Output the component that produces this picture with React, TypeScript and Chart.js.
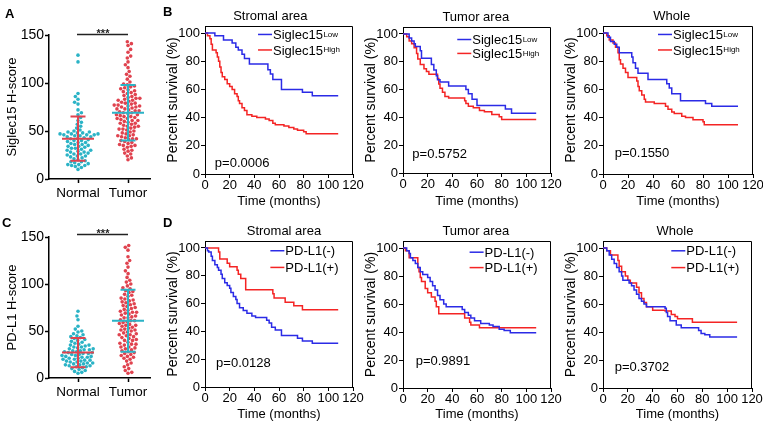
import React, { useEffect, useRef } from 'react';
import { Chart, registerables } from 'chart.js';
Chart.register(...registerables);

const FONT = '"Liberation Sans", Arial, Helvetica, sans-serif';
const BLUE = '#2b2be6';
const RED = '#f42424';
const CYAN = '#2bb3c6';
const PINK = '#e0434f';

// ---------- Dot plots (A, C) ----------
const CATEGORIES = ['Normal', 'Tumor'];
const DOT_Y_TICKS = [0, 50, 100, 150];

const siglecNormal = [129, 122, 89, 86, 83, 80, 78, 72, 69, 67, 64, 61, 59, 57, 55, 53, 51, 50, 49, 49, 48, 48, 47, 47, 47, 46, 46, 46, 45, 45, 44, 44, 43, 42, 42, 41, 40, 40, 39, 38, 38, 37, 36, 36, 35, 34, 34, 33, 32, 32, 31, 30, 30, 29, 28, 28, 27, 26, 26, 25, 24, 24, 23, 22, 21, 20, 19, 18, 18, 17, 16, 15, 15, 14, 14, 13, 12, 10];
const siglecTumor = [143, 141, 139, 135, 132, 128, 126, 122, 119, 116, 112, 109, 107, 104, 101, 99, 98, 97, 96, 95, 94, 93, 92, 91, 90, 89, 88, 87, 86, 85, 84, 84, 83, 82, 82, 81, 80, 79, 79, 78, 77, 77, 76, 76, 75, 75, 74, 73, 73, 72, 71, 71, 70, 69, 69, 68, 67, 67, 66, 65, 65, 64, 63, 63, 62, 61, 61, 60, 59, 58, 58, 57, 56, 55, 55, 54, 53, 52, 52, 51, 50, 49, 48, 47, 46, 45, 45, 44, 43, 42, 42, 41, 40, 39, 38, 37, 36, 35, 35, 34, 33, 31, 30, 29, 27, 26, 24, 22, 20];
const siglecMean = [42, 69];
const siglecSD = [23, 29];

const pdl1Normal = [71, 66, 62, 55, 52, 50, 49, 47, 46, 45, 44, 43, 42, 41, 40, 39, 38, 37, 36, 35, 35, 34, 33, 33, 32, 31, 31, 30, 30, 29, 29, 28, 28, 27, 27, 26, 26, 25, 25, 24, 24, 23, 23, 22, 22, 21, 21, 20, 20, 19, 19, 18, 18, 17, 17, 16, 16, 15, 15, 14, 14, 13, 13, 12, 12, 11, 10, 9, 8, 7, 6, 5];
const pdl1Tumor = [141, 139, 136, 129, 125, 122, 118, 114, 111, 107, 104, 102, 100, 98, 96, 95, 93, 92, 91, 89, 88, 87, 85, 84, 83, 82, 81, 80, 79, 78, 77, 76, 75, 74, 73, 72, 71, 70, 70, 69, 68, 67, 66, 65, 64, 64, 62, 61, 61, 60, 59, 58, 57, 56, 56, 55, 54, 53, 52, 51, 51, 50, 49, 48, 47, 46, 46, 45, 44, 43, 42, 41, 40, 40, 38, 37, 36, 36, 35, 33, 33, 32, 31, 30, 29, 28, 27, 26, 25, 24, 23, 22, 21, 20, 18, 16, 14, 12, 10, 8, 6, 5];
const pdl1Mean = [27, 61];
const pdl1SD = [15.5, 33];

// ---------- Survival curves (B, D) ----------
const KM_X_TICKS = [0, 20, 40, 60, 80, 100, 120];
const KM_Y_TICKS = [0, 20, 40, 60, 80, 100];

const b1LowT = [0, 8, 15, 22, 25, 27, 30, 32, 36, 51, 53, 55, 62, 79, 87, 108];
const b1LowS = [100, 98, 95, 93, 90, 88, 85, 82, 78, 74, 71, 67, 60, 58, 55.5, 55.5];
const b1HighT = [0, 2, 4, 5, 6, 9, 10, 11, 12, 13, 14, 16, 18, 20, 22, 24, 26, 27, 28, 30, 32, 34, 38, 42, 49, 52, 55, 57, 64, 68, 72, 75, 80, 82, 108];
const b1HighS = [100, 98, 96, 92, 88, 86, 83, 80, 76, 72, 69, 67, 64, 62, 60, 57, 55, 52, 50, 47, 45, 42, 41, 40, 39, 38, 36, 35, 34, 33, 32, 31, 30, 28.5, 28.5];

const b2LowT = [0, 5, 7, 9, 10, 14, 15, 23, 25, 27, 28, 30, 37, 51, 53, 56, 60, 83, 88, 108];
const b2LowS = [100, 97, 95, 93, 91, 88, 82.5, 78, 74, 70, 67, 65.5, 62.5, 60, 57, 53, 48.5, 46, 43, 43];
const b2HighT = [0, 3, 5, 7, 9, 11, 12, 14, 17, 19, 21, 28, 29, 30, 32, 34, 37, 50, 51, 53, 57, 62, 66, 72, 78, 80, 108];
const b2HighS = [100, 98, 95, 93, 90, 86, 82, 78, 75, 73, 71, 68, 64, 61, 58, 55, 54, 52, 50, 48, 47, 45, 44, 42, 40.5, 38.5, 38.5];

const b3LowT = [0, 4, 6, 9, 11, 13, 23, 24, 26, 28, 36, 51, 53, 55, 62, 82, 87, 108];
const b3LowS = [100, 97, 94, 92, 90, 86, 83, 79, 75, 71.5, 67, 64, 61, 57, 52, 50, 48, 48];
const b3HighT = [0, 3, 5, 8, 10, 12, 13, 14, 16, 18, 20, 27, 28, 29, 31, 33, 34, 41, 50, 52, 55, 57, 63, 66, 72, 80, 81, 108];
const b3HighS = [100, 98, 95, 93, 90, 86, 81, 78, 75, 72, 68.5, 66, 62, 59, 56, 53, 51, 50, 48, 46, 44, 43, 41, 40, 38.5, 37, 35, 35];

const d1NegT = [0, 2, 3, 5, 6, 8, 10, 11, 13, 14, 16, 18, 20, 21, 23, 25, 26, 28, 31, 34, 38, 41, 50, 52, 54, 57, 62, 75, 79, 87, 108];
const d1NegS = [100, 98, 97, 94, 91, 88, 86, 84, 81, 78, 75, 73, 71, 68, 65, 63, 60, 57, 55, 53, 51, 50, 48, 46, 43, 41, 37, 35, 33, 31.5, 31.5];
const d1PosT = [0, 11, 12, 18, 20, 26, 27, 29, 33, 55, 56, 65, 72, 79, 108];
const d1PosS = [100, 97, 92, 89, 86.5, 84, 81, 78, 70, 67, 64, 61, 58.5, 55.5, 55.5];

const d2NegT = [0, 3, 5, 6, 8, 10, 12, 14, 16, 20, 22, 24, 26, 28, 30, 33, 35, 48, 50, 53, 55, 58, 63, 70, 73, 78, 82, 87, 108];
const d2NegS = [100, 98, 96, 93, 91, 89, 86, 83, 81, 79, 76, 73, 70, 66, 63, 60, 58, 56, 54, 52, 50, 48, 46, 45, 44, 42, 41, 39.5, 39.5];
const d2PosT = [0, 2, 5, 12, 13, 14, 15, 18, 20, 23, 26, 27, 29, 50, 54, 55, 62, 108];
const d2PosS = [100, 98, 93, 86, 83, 79, 76, 71, 68, 65, 62, 58, 53, 50, 47, 45, 43, 43];

const d3NegT = [0, 3, 5, 7, 9, 11, 13, 15, 16, 21, 23, 25, 27, 29, 31, 33, 35, 50, 51, 52, 54, 59, 63, 77, 79, 82, 86, 108];
const d3NegS = [100, 98, 95, 92, 89, 86, 83, 80, 77, 75, 73, 70, 67, 64, 62, 60, 58, 57, 54, 51, 48, 45, 43, 41, 39, 38, 36.5, 36.5];
const d3PosT = [0, 3, 6, 12, 13, 15, 18, 20, 22, 27, 29, 31, 33, 35, 40, 50, 55, 58, 60, 72, 108];
const d3PosS = [100, 98, 95, 91, 87, 83, 80, 77, 75, 72, 68, 64, 61, 58, 55.5, 55, 52.5, 51, 49.5, 47, 47];

const SIGLEC_NAMES = ['Siglec15', 'Siglec15'];
const SIGLEC_SUPS = ['Low', 'High'];
const PDL1_NAMES = ['PD-L1(-)', 'PD-L1(+)'];
const PDL1_SUPS = ['', ''];

// ---------- helpers ----------
function textAt(ctx: CanvasRenderingContext2D, text: string, x: number, yc: number, size: number, align: CanvasTextAlign = 'left', bold = false) {
  ctx.save();
  ctx.font = `${bold ? 'bold ' : ''}${size}px ${FONT}`;
  ctx.fillStyle = '#000';
  ctx.textAlign = align;
  ctx.textBaseline = 'alphabetic';
  ctx.fillText(text, x, yc + size * 0.36);
  ctx.restore();
}

function swarm(values: number[], center: number, kx: number, ky: number, d: number) {
  const order = values.map((_, i) => i).sort((a, b) => values[a] - values[b]);
  const placed: { x: number; y: number }[] = [];
  const out: { x: number; y: number }[] = new Array(values.length);
  let flip = 1;
  for (const i of order) {
    const y = values[i] * ky;
    const near = placed.filter((p) => Math.abs(p.y - y) < d);
    const cands = [0];
    near.forEach((p) => {
      const dx = Math.sqrt(d * d - (p.y - y) * (p.y - y));
      cands.push(p.x + dx, p.x - dx);
    });
    cands.sort((a, b) => Math.abs(a) - Math.abs(b) || (a - b) * flip);
    let xx = 0;
    for (const c of cands) {
      if (near.every((p) => (p.x - c) * (p.x - c) + (p.y - y) * (p.y - y) >= d * d - 1e-6)) { xx = c; break; }
    }
    flip = -flip;
    placed.push({ x: xx, y });
    out[i] = { x: center + xx / kx, y: values[i] };
  }
  return out;
}

type DotPanel = {
  height: number; padTop: number; xH: number; yTitle: string;
  normal: number[]; tumor: number[]; mean: number[]; sd: number[]; ky: number; barY: number;
};

function dotConfig(p: DotPanel): any {
  const decor = {
    id: 'dotDecor',
    afterDatasetsDraw(chart: any) {
      const { ctx, scales: { x, y } } = chart;
      ctx.save();
      const colors = [PINK, CYAN];
      [1, 2].forEach((c, i) => {
        ctx.strokeStyle = colors[i];
        ctx.lineWidth = 2;
        const m = p.mean[i], s = p.sd[i];
        ctx.beginPath();
        ctx.moveTo(x.getPixelForValue(c - 0.32), y.getPixelForValue(m));
        ctx.lineTo(x.getPixelForValue(c + 0.32), y.getPixelForValue(m));
        ctx.moveTo(x.getPixelForValue(c), y.getPixelForValue(m - s));
        ctx.lineTo(x.getPixelForValue(c), y.getPixelForValue(m + s));
        ctx.moveTo(x.getPixelForValue(c - 0.15), y.getPixelForValue(m + s));
        ctx.lineTo(x.getPixelForValue(c + 0.15), y.getPixelForValue(m + s));
        ctx.moveTo(x.getPixelForValue(c - 0.15), y.getPixelForValue(m - s));
        ctx.lineTo(x.getPixelForValue(c + 0.15), y.getPixelForValue(m - s));
        ctx.stroke();
      });
      const by = Math.round(y.getPixelForValue(p.barY)) + 0.5;
      ctx.strokeStyle = '#222';
      ctx.lineWidth = 1.5;
      ctx.beginPath();
      ctx.moveTo(x.getPixelForValue(0.98), by);
      ctx.lineTo(x.getPixelForValue(2.0), by);
      ctx.stroke();
      ctx.font = `bold 11px ${FONT}`;
      ctx.fillStyle = '#222';
      ctx.textAlign = 'center';
      ctx.textBaseline = 'alphabetic';
      ctx.fillText('***', x.getPixelForValue(1.5), by + 2);
      ctx.restore();
    },
  };
  return {
    type: 'scatter',
    data: {
      datasets: [
        { data: swarm(p.normal, 1, 50, p.ky, 3.9), backgroundColor: CYAN, borderWidth: 0, pointRadius: 1.8, pointHoverRadius: 1.8 },
        { data: swarm(p.tumor, 2, 50, p.ky, 3.9), backgroundColor: PINK, borderWidth: 0, pointRadius: 1.8, pointHoverRadius: 1.8 },
      ],
    },
    options: {
      responsive: false, animation: false, events: [],
      layout: { padding: { top: p.padTop, right: 10, left: 0, bottom: 0 } },
      plugins: { legend: { display: false }, tooltip: { enabled: false } },
      scales: {
        x: {
          type: 'linear', min: 0.42, max: 2.44,
          afterBuildTicks: (sc: any) => { sc.ticks = [1, 2].map((v) => ({ value: v })); },
          afterFit: (sc: any) => { sc.height = p.xH; sc.paddingLeft = 0; sc.paddingRight = 0; },
          grid: { display: true, drawOnChartArea: false, drawTicks: true, tickLength: 4, tickColor: '#000', tickWidth: 1.5 },
          border: { display: true, color: '#000', width: 1.5 },
          ticks: { color: '#000', font: { family: FONT, size: 13.5 }, padding: 2, maxRotation: 0, autoSkip: false, callback: (v: number) => CATEGORIES[v - 1] },
        },
        y: {
          type: 'linear', min: 0, max: 150,
          afterBuildTicks: (sc: any) => { sc.ticks = DOT_Y_TICKS.map((v) => ({ value: v })); },
          afterFit: (sc: any) => { sc.width = 49; sc.paddingTop = 0; sc.paddingBottom = 0; },
          grid: { display: true, drawOnChartArea: false, drawTicks: true, tickLength: 4, tickColor: '#000', tickWidth: 1.5 },
          border: { display: true, color: '#000', width: 1.5 },
          ticks: { color: '#000', font: { family: FONT, size: 14 }, padding: 1 },
          title: { display: true, text: p.yTitle, color: '#000', font: { family: FONT, size: 13 }, padding: { top: 5, bottom: 0 } },
        },
      },
    },
    plugins: [decor],
  };
}

type KMPanel = {
  height: number; padTop: number; padRight: number; xH: number; title: string; titleX: number;
  p: string; pX: number; pY: number; legX: number; legY: number[];
  series: number[][][]; names: string[]; sups: string[];
};

function kmConfig(p: KMPanel): any {
  const colors = [BLUE, RED];
  const decor = {
    id: 'kmDecor',
    afterDraw(chart: any) {
      const { ctx, chartArea: a, scales: { x, y } } = chart;
      ctx.save();
      ctx.strokeStyle = '#000';
      ctx.lineWidth = 1;
      const top = Math.round(a.top) + 0.5;
      const right = Math.round(a.right) - 0.5;
      ctx.beginPath();
      ctx.moveTo(a.left, top);
      ctx.lineTo(right, top);
      ctx.lineTo(right, a.bottom);
      ctx.stroke();
      textAt(ctx, p.title, x.getPixelForValue(p.titleX), y.getPixelForValue(112.5), 13, 'center');
      textAt(ctx, p.p, x.getPixelForValue(p.pX), y.getPixelForValue(p.pY), 13, 'left');
      p.names.forEach((name, i) => {
        const yy = y.getPixelForValue(p.legY[i]);
        const x0 = x.getPixelForValue(p.legX);
        ctx.strokeStyle = colors[i];
        ctx.lineWidth = 1.5;
        ctx.beginPath();
        ctx.moveTo(x0, yy);
        ctx.lineTo(x0 + 14, yy);
        ctx.stroke();
        textAt(ctx, name, x0 + 15, yy, 13, 'left');
        if (p.sups[i]) {
          ctx.font = `13px ${FONT}`;
          const w = ctx.measureText(name).width;
          ctx.font = `8px ${FONT}`;
          ctx.fillStyle = '#000';
          ctx.textAlign = 'left';
          ctx.textBaseline = 'alphabetic';
          ctx.fillText(p.sups[i], x0 + 15 + w + 0.5, yy + 2.5);
        }
      });
      ctx.restore();
    },
  };
  return {
    type: 'line',
    data: {
      datasets: p.series.map((s, i) => ({
        label: p.names[i] + p.sups[i],
        data: s[0].map((t, j) => ({ x: t, y: s[1][j] })),
        borderColor: colors[i], borderWidth: 1.5, stepped: true, pointRadius: 0, fill: false,
      })),
    },
    options: {
      responsive: false, animation: false, events: [],
      layout: { padding: { top: p.padTop, right: p.padRight, left: 0, bottom: 0 } },
      plugins: { legend: { display: false }, tooltip: { enabled: false } },
      scales: {
        x: {
          type: 'linear', min: 0, max: 120,
          afterBuildTicks: (sc: any) => { sc.ticks = KM_X_TICKS.map((v) => ({ value: v })); },
          afterFit: (sc: any) => { sc.height = p.xH; sc.paddingLeft = 0; sc.paddingRight = 0; },
          grid: { display: true, drawOnChartArea: false, drawTicks: true, tickLength: 4, tickColor: '#000', tickWidth: 1 },
          border: { display: true, color: '#000', width: 1 },
          ticks: { color: '#000', font: { family: FONT, size: 13 }, padding: 0, maxRotation: 0, autoSkip: false },
          title: { display: true, text: 'Time (months)', color: '#000', font: { family: FONT, size: 13 }, padding: { top: 0, bottom: p.height > 212 ? 4 : 1 } },
        },
        y: {
          type: 'linear', min: 0, max: 105,
          afterBuildTicks: (sc: any) => { sc.ticks = KM_Y_TICKS.map((v) => ({ value: v })); },
          afterFit: (sc: any) => { sc.width = 45; sc.paddingTop = 0; sc.paddingBottom = 0; },
          grid: { display: true, drawOnChartArea: false, drawTicks: true, tickLength: 4, tickColor: '#000', tickWidth: 1 },
          border: { display: true, color: '#000', width: 1 },
          ticks: { color: '#000', font: { family: FONT, size: 13 }, padding: 1 },
          title: { display: true, text: 'Percent survival (%)', color: '#000', font: { family: FONT, size: 14 }, padding: { top: 5, bottom: 0 } },
        },
      },
    },
    plugins: [decor],
  };
}

function ChartBox({ left, top, width, height, config }: { left: number; top: number; width: number; height: number; config: () => any }) {
  const ref = useRef<HTMLCanvasElement>(null);
  useEffect(() => {
    const chart = new Chart(ref.current as HTMLCanvasElement, config());
    return () => chart.destroy();
  }, []);
  return <canvas ref={ref} width={width} height={height} style={{ position: 'absolute', left, top, width, height }} />;
}

function Letter({ text, left, top }: { text: string; left: number; top: number }) {
  return <div style={{ position: 'absolute', left, top, font: `bold 13px ${FONT}`, lineHeight: '13px', color: '#000' }}>{text}</div>;
}

export default function App() {
  const dotA: DotPanel = { height: 210, padTop: 35, xH: 31, yTitle: 'Siglec15 H-score', normal: siglecNormal, tumor: siglecTumor, mean: siglecMean, sd: siglecSD, ky: 0.96, barY: 151 };
  const dotC: DotPanel = { height: 216, padTop: 27, xH: 48, yTitle: 'PD-L1 H-score', normal: pdl1Normal, tumor: pdl1Tumor, mean: pdl1Mean, sd: pdl1SD, ky: 0.94, barY: 153 };

  const km: { left: number; top: number; panel: KMPanel }[] = [
    { left: 160, top: 0, panel: { height: 210, padTop: 26, padRight: 12, xH: 36, title: 'Stromal area', titleX: 53, p: 'p=0.0006', pX: 8, pY: 8.5, legX: 43, legY: [99, 88], series: [[b1LowT, b1LowS], [b1HighT, b1HighS]], names: SIGLEC_NAMES, sups: SIGLEC_SUPS } },
    { left: 358, top: 0, panel: { height: 210, padTop: 27, padRight: 12, xH: 37, title: 'Tumor area', titleX: 59, p: 'p=0.5752', pX: 7.6, pY: 14, legX: 44, legY: [96, 86], series: [[b2LowT, b2LowS], [b2HighT, b2HighS]], names: SIGLEC_NAMES, sups: SIGLEC_SUPS } },
    { left: 558, top: 0, panel: { height: 210, padTop: 26, padRight: 10, xH: 36, title: 'Whole', titleX: 55, p: 'p=0.1550', pX: 9.4, pY: 15.7, legX: 44, legY: [99, 88], series: [[b3LowT, b3LowS], [b3HighT, b3HighS]], names: SIGLEC_NAMES, sups: SIGLEC_SUPS } },
    { left: 160, top: 210, panel: { height: 216, padTop: 31, padRight: 12, xH: 39, title: 'Stromal area', titleX: 64, p: 'p=0.0128', pX: 9, pY: 18, legX: 53, legY: [98, 86], series: [[d1NegT, d1NegS], [d1PosT, d1PosS]], names: PDL1_NAMES, sups: PDL1_SUPS } },
    { left: 358, top: 210, panel: { height: 216, padTop: 31, padRight: 12, xH: 38, title: 'Tumor area', titleX: 59, p: 'p=0.9891', pX: 10.3, pY: 19.8, legX: 54, legY: [97, 86], series: [[d2NegT, d2NegS], [d2PosT, d2PosS]], names: PDL1_NAMES, sups: PDL1_SUPS } },
    { left: 558, top: 210, panel: { height: 216, padTop: 31, padRight: 11, xH: 38, title: 'Whole', titleX: 58, p: 'p=0.3702', pX: 9.4, pY: 15.5, legX: 55, legY: [98, 86], series: [[d3NegT, d3NegS], [d3PosT, d3PosS]], names: PDL1_NAMES, sups: PDL1_SUPS } },
  ];

  return (
    <div style={{ position: 'absolute', left: 0, top: 0, width: 763, height: 426, background: '#fff', overflow: 'hidden' }}>
      <ChartBox left={0} top={0} width={160} height={210} config={() => dotConfig(dotA)} />
      <ChartBox left={0} top={210} width={160} height={216} config={() => dotConfig(dotC)} />
      {km.map((k, i) => (
        <ChartBox key={i} left={k.left} top={k.top} width={205} height={k.panel.height} config={() => kmConfig(k.panel)} />
      ))}
      <Letter text="A" left={5} top={7} />
      <Letter text="B" left={163} top={5} />
      <Letter text="C" left={2} top={216} />
      <Letter text="D" left={163} top={216} />
    </div>
  );
}
